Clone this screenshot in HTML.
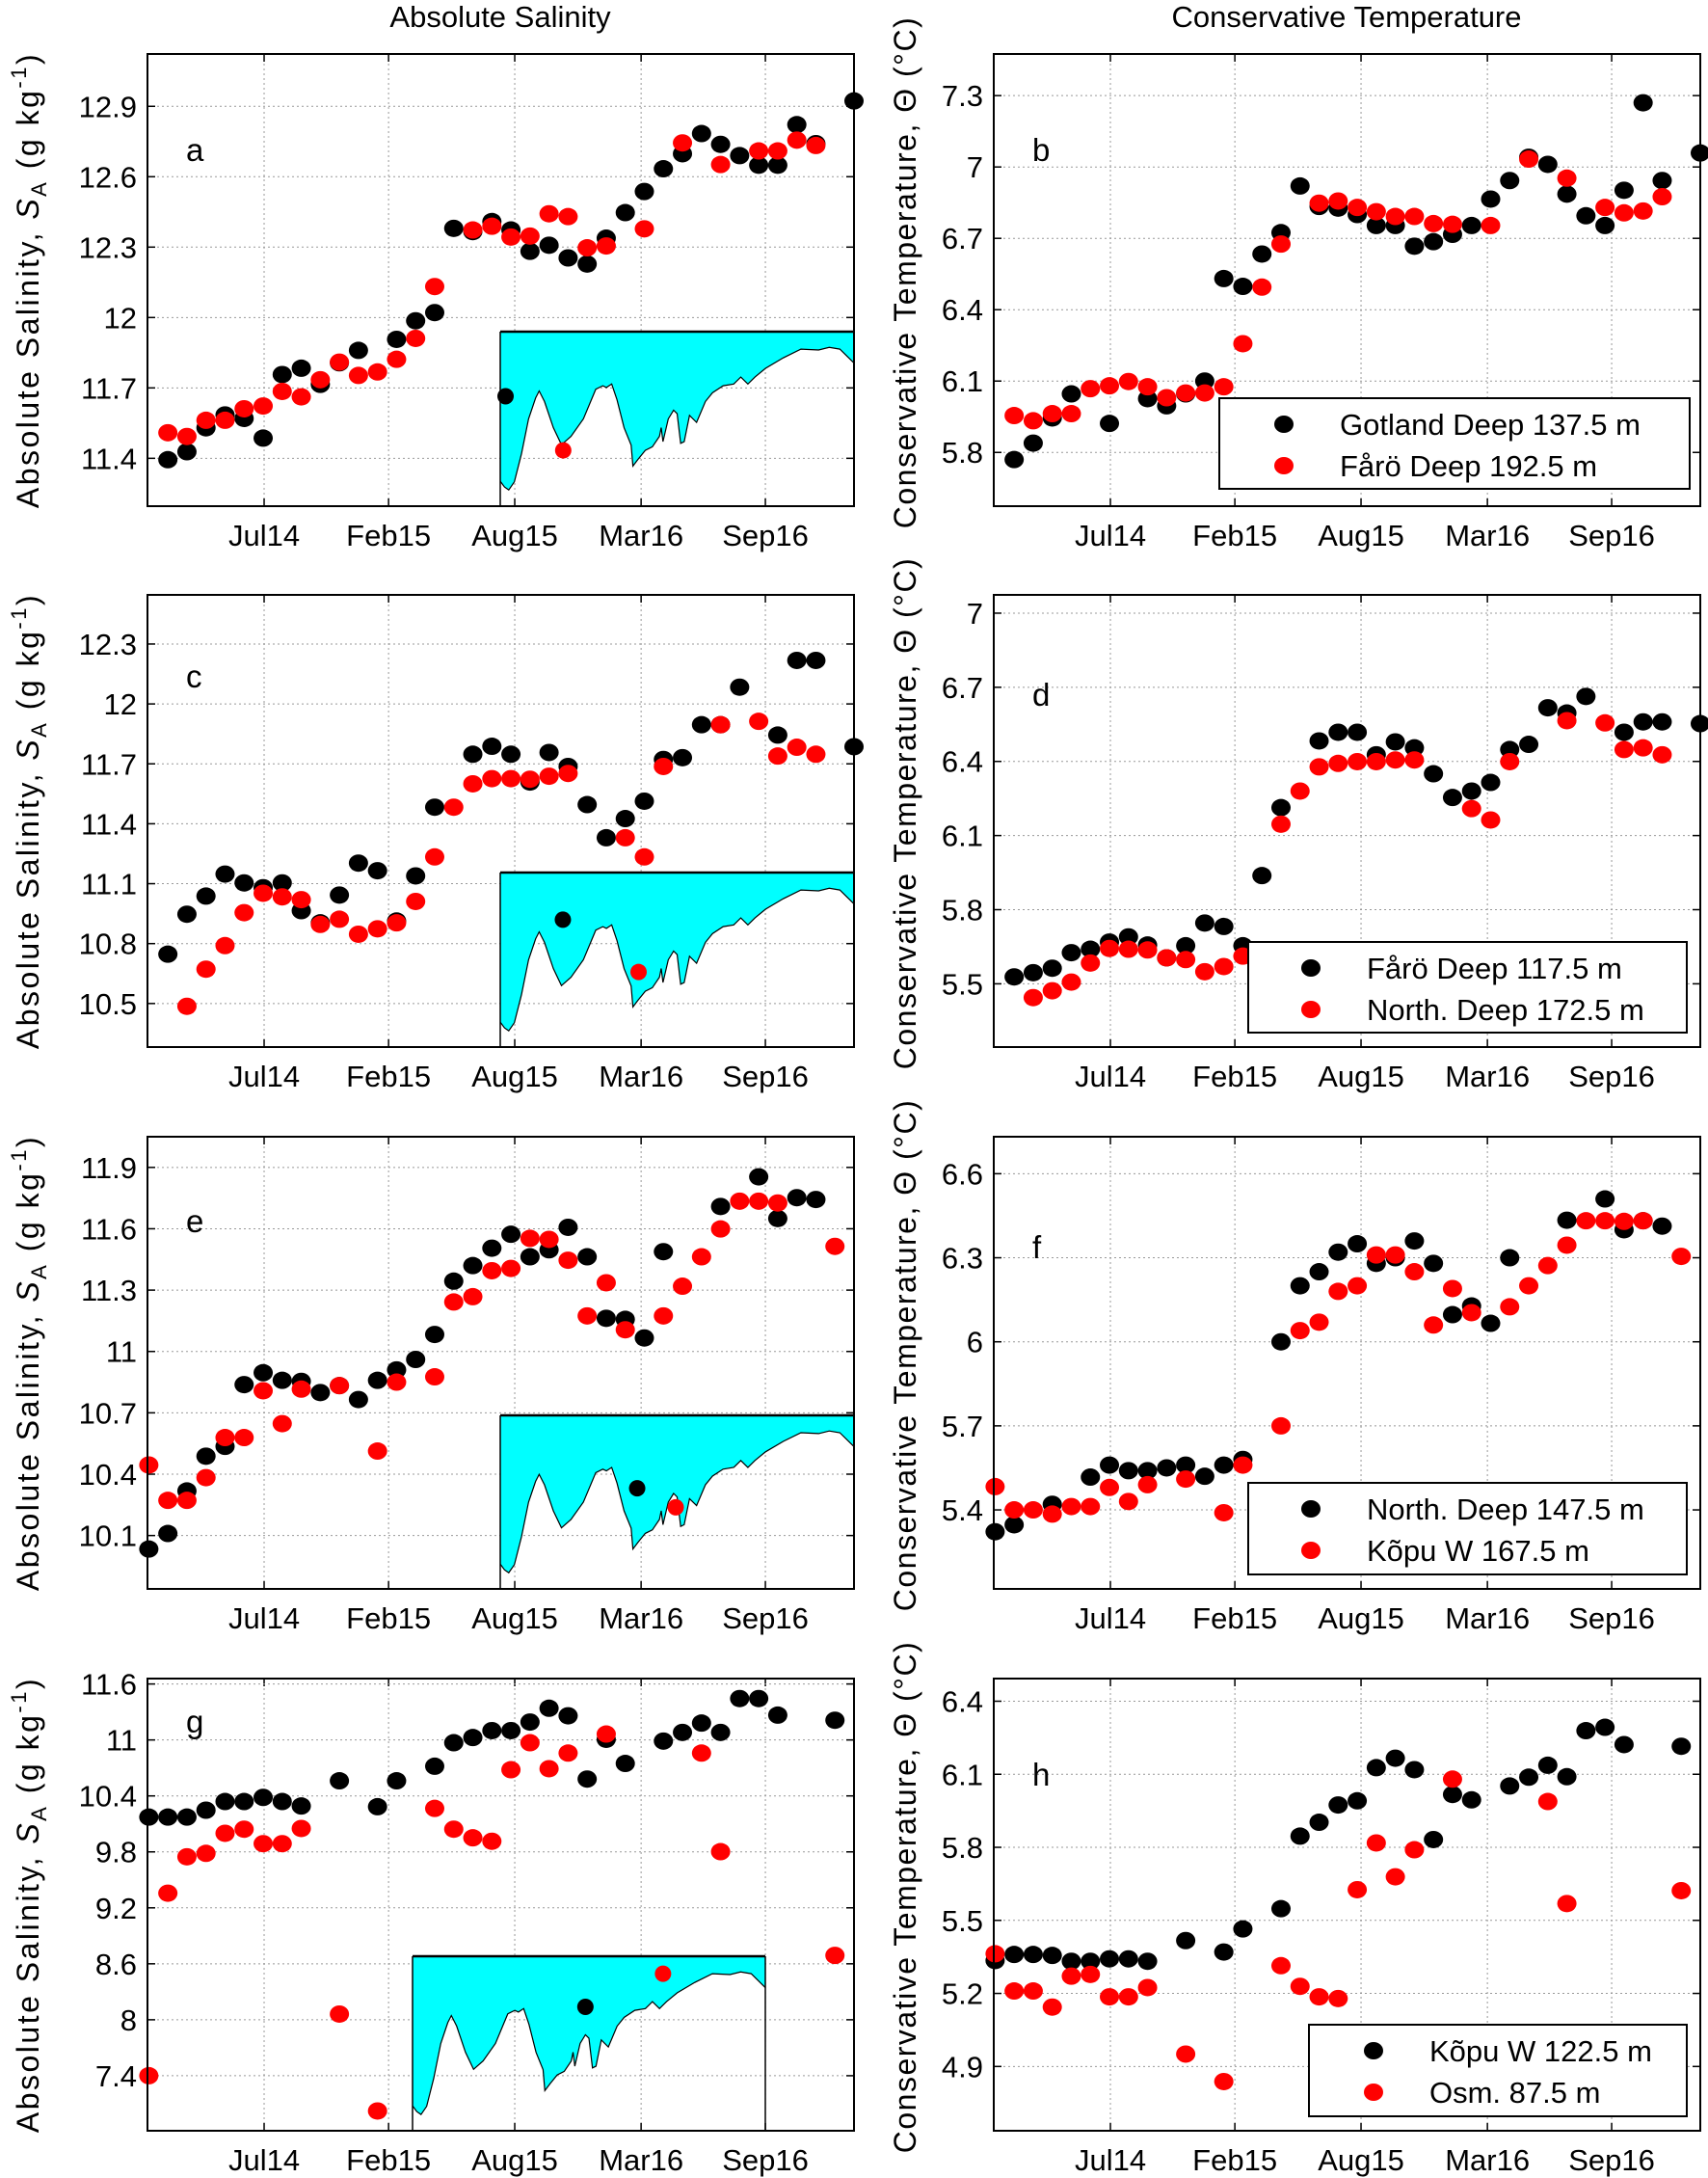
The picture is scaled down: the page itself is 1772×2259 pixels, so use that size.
<!DOCTYPE html>
<html><head><meta charset="utf-8">
<style>
html,body{margin:0;padding:0;background:#fff;}
svg{display:block;font-family:"Liberation Sans",Arial,sans-serif;}
</style></head>
<body>
<svg id="fig" width="1772" height="2259" viewBox="0 0 1772 2259" xmlns="http://www.w3.org/2000/svg">
<text x="519" y="28" font-size="31" text-anchor="middle">Absolute Salinity</text>
<text x="1397" y="28" font-size="31" text-anchor="middle">Conservative Temperature</text>
</svg>
<script>
const tickMonths = [0.05, 6.58, 13.2, 19.83, 26.35];
const tickLabels = ["Jul14", "Feb15", "Aug15", "Mar16", "Sep16"];

const aBlack = [null,11.394,11.428,11.53,11.585,11.57,11.486,11.757,11.784,11.715,11.807,11.86,null,11.907,11.986,12.021,12.38,12.366,12.409,12.373,12.282,12.308,12.254,12.228,12.338,12.447,12.537,12.634,12.698,12.784,12.738,12.69,12.649,12.649,12.822,12.741,null,12.923];
const aRed = [null,11.509,11.493,11.562,11.562,11.611,11.623,11.685,11.662,11.735,11.81,11.753,11.768,11.822,11.911,12.132,null,12.373,12.389,12.343,12.347,12.442,12.43,12.297,12.305,null,12.378,null,12.744,null,12.652,null,12.71,12.71,12.756,12.733];
const bBlack = [null,5.77,5.839,5.945,6.046,null,5.922,null,6.026,5.996,6.046,6.1,6.531,6.498,6.634,6.724,6.92,6.834,6.827,6.8,6.754,6.754,6.667,6.686,6.717,6.754,6.865,6.943,7.041,7.011,6.886,6.795,6.754,6.902,7.27,6.943,null,7.059];
const bRed = [null,5.955,5.933,5.963,5.963,6.068,6.08,6.098,6.076,6.03,6.05,6.05,6.076,6.257,6.495,6.676,null,6.848,6.857,6.83,6.812,6.792,6.792,6.762,6.759,null,6.754,null,7.033,null,6.953,null,6.83,6.807,6.815,6.875];
const cBlack = [null,10.747,10.947,11.038,11.148,11.104,11.08,11.104,10.965,10.904,11.043,11.203,11.165,10.913,11.139,11.483,null,11.748,11.788,11.748,11.609,11.757,11.687,11.496,11.33,11.426,11.513,11.722,11.731,11.896,11.896,12.084,null,11.844,12.218,12.218,null,11.786];
const cRed = [null,null,10.486,10.672,10.79,10.955,11.052,11.034,11.02,10.896,10.922,10.847,10.874,10.904,11.011,11.234,11.483,11.6,11.626,11.626,11.623,11.638,11.652,null,null,11.33,11.234,11.687,null,null,11.896,null,11.913,11.739,11.783,11.748];
const dBlack = [null,5.528,5.545,5.563,5.626,5.64,5.669,5.69,5.657,5.605,5.654,5.746,5.732,5.654,5.938,6.213,null,6.483,6.518,6.518,6.427,6.479,6.455,6.35,6.254,6.28,6.315,6.448,6.469,6.617,6.596,6.663,null,6.518,6.56,6.56,null,6.553];
const dRed = [null,null,5.444,5.472,5.507,5.584,5.643,5.64,5.637,5.605,5.598,5.549,5.57,5.612,null,6.146,6.28,6.378,6.392,6.399,6.399,6.406,6.406,null,null,6.209,6.163,6.399,null,null,6.565,null,6.556,6.448,6.455,6.427];
const eBlack = [10.034,10.11,10.318,10.488,10.536,10.838,10.896,10.859,10.854,10.799,10.833,10.765,10.859,10.91,10.961,11.083,11.344,11.42,11.505,11.573,11.463,11.497,11.607,11.463,11.162,11.157,11.066,11.488,null,null,11.709,null,11.854,11.65,11.752,11.743];
const eRed = [10.445,10.272,10.272,10.383,10.579,10.579,10.808,10.647,10.816,null,10.833,null,10.513,10.85,null,10.876,11.242,11.268,11.395,11.406,11.553,11.548,11.446,11.174,11.336,11.106,null,11.174,11.319,11.463,11.599,11.735,11.735,11.726,null,null,11.514];
const fBlack = [5.322,5.347,null,5.42,null,5.517,5.56,5.54,5.54,5.55,5.56,5.52,5.56,5.58,null,6.0,6.2,6.25,6.32,6.35,6.28,6.30,6.36,6.28,6.097,6.128,6.066,6.30,null,null,6.434,null,6.51,6.40,6.432,6.413];
const fRed = [5.483,5.40,5.40,5.385,5.412,5.412,5.48,5.43,5.49,null,5.51,null,5.39,5.56,null,5.70,6.04,6.07,6.18,6.20,6.31,6.31,6.25,6.06,6.19,6.104,null,6.125,6.20,6.272,6.345,6.432,6.432,6.43,6.432,null,6.305];
const gBlack = [10.173,10.173,10.173,10.247,10.34,10.34,10.384,10.34,10.292,null,10.562,null,10.284,10.562,null,10.718,10.97,11.026,11.1,11.1,11.192,11.34,11.259,10.581,11.007,10.748,null,10.988,11.081,11.181,11.081,11.444,11.444,11.266,null,null,11.211];
const gRed = [7.4,9.357,9.747,9.784,9.999,10.043,9.888,9.888,10.051,null,8.061,null,7.022,null,null,10.266,10.043,9.951,9.914,10.681,10.97,10.692,10.859,null,11.063,null,null,null,null,10.859,9.802,null,null,null,null,null,8.69];
const hBlack = [5.335,5.36,5.36,5.356,5.332,5.332,5.342,5.342,5.332,null,5.417,null,5.37,5.465,null,5.548,5.846,5.903,5.974,5.991,6.127,6.166,6.119,5.832,6.017,5.995,null,6.052,6.088,6.137,6.09,6.279,6.293,6.222,null,null,6.215];
const hRed = [5.363,5.21,5.21,5.144,5.271,5.278,5.186,5.186,5.224,null,4.951,null,4.838,null,null,5.314,5.229,5.186,5.179,5.626,5.818,5.679,5.79,null,6.08,null,null,null,null,5.988,5.569,null,null,null,null,null,5.622];

const salTicksA = [11.4,11.7,12.0,12.3,12.6,12.9];
const salTicksC = [10.5,10.8,11.1,11.4,11.7,12.0,12.3];
const salTicksE = [10.1,10.4,10.7,11.0,11.3,11.6,11.9];
const salTicksG = [7.4,8.0,8.6,9.2,9.8,10.4,11.0,11.6];
const tmpTicksB = [5.8,6.1,6.4,6.7,7.0,7.3];
const tmpTicksD = [5.5,5.8,6.1,6.4,6.7,7.0];
const tmpTicksF = [5.4,5.7,6.0,6.3,6.6];
const tmpTicksH = [4.9,5.2,5.5,5.8,6.1,6.4];

const legendB = ["Gotland Deep 137.5 m","Fårö Deep 192.5 m"];
const legendD = ["Fårö Deep 117.5 m","North. Deep 172.5 m"];
const legendF = ["North. Deep 147.5 m","Kõpu W 167.5 m"];
const legendH = ["Kõpu W 122.5 m","Osm. 87.5 m"];

const profX = [0,0.012,0.024,0.04,0.06,0.08,0.1,0.11,0.125,0.15,0.173,0.2,0.235,0.27,0.29,0.3,0.315,0.33,0.35,0.37,0.375,0.39,0.41,0.43,0.45,0.455,0.46,0.475,0.49,0.5,0.51,0.52,0.535,0.555,0.58,0.6,0.63,0.66,0.68,0.7,0.72,0.75,0.8,0.85,0.9,0.93,0.96,1];
const profY = [0.857,0.89,0.907,0.86,0.7,0.5,0.38,0.34,0.4,0.55,0.648,0.6,0.5,0.33,0.31,0.32,0.3,0.39,0.55,0.65,0.77,0.73,0.68,0.66,0.6,0.55,0.63,0.5,0.45,0.47,0.64,0.63,0.48,0.52,0.4,0.35,0.31,0.3,0.26,0.3,0.26,0.21,0.15,0.1,0.105,0.09,0.1,0.18];

const NS = "http://www.w3.org/2000/svg";
const svg = document.getElementById("fig");
const M0 = -6.07, M1 = 31.0;
function mk(tag, attrs, parent){ const e=document.createElementNS(NS,tag); for(const k in attrs) e.setAttribute(k,attrs[k]); (parent||svg).appendChild(e); return e; }

const LX = 153, RX = 1031, W = 733, H = 469;
const panels = [
 {id:"a",L:LX,T:56,y0:11.196,y1:13.123,ticks:salTicksA,blk:aBlack,red:aRed,sal:true,letterDy:111,inset:{x:519,w:367,t:344},idots:[[0.015,0.37,"#000"],[0.178,0.68,"#f00"]]},
 {id:"b",L:RX,T:56,y0:5.574,y1:7.475,ticks:tmpTicksB,blk:bBlack,red:bRed,sal:false,letterDy:111,legend:{names:legendB,x:1265,y:413,w:488,h:94,mx:67,tx:125}},
 {id:"c",L:LX,T:617,y0:10.282,y1:12.546,ticks:salTicksC,blk:cBlack,red:cRed,sal:true,letterDy:96,inset:{x:519,w:367,t:905},idots:[[0.177,0.27,"#000"],[0.391,0.57,"#f00"]]},
 {id:"d",L:RX,T:617,y0:5.244,y1:7.074,ticks:tmpTicksD,blk:dBlack,red:dRed,sal:false,letterDy:115,legend:{names:legendD,x:1295,y:977,w:455,h:94,mx:65,tx:123}},
 {id:"e",L:LX,T:1179,y0:9.839,y1:12.05,ticks:salTicksE,blk:eBlack,red:eRed,sal:true,letterDy:99,inset:{x:519,w:367,t:1468},idots:[[0.387,0.42,"#000"],[0.496,0.53,"#f00"]]},
 {id:"f",L:RX,T:1179,y0:5.118,y1:6.732,ticks:tmpTicksF,blk:fBlack,red:fRed,sal:false,letterDy:126,legend:{names:legendF,x:1295,y:1538,w:455,h:95,mx:65,tx:123}},
 {id:"g",L:LX,T:1741,y0:6.81,y1:11.658,ticks:salTicksG,blk:gBlack,red:gRed,sal:true,letterDy:56,inset:{x:428,w:366,t:2029,box:true},idots:[[0.49,0.29,"#000"],[0.71,0.10,"#f00"]]},
 {id:"h",L:RX,T:1741,y0:4.636,y1:6.493,ticks:tmpTicksH,blk:hBlack,red:hRed,sal:false,letterDy:111,legend:{names:legendH,x:1358,y:2100,w:392,h:95,mx:67,tx:125}}
];

function fmt(v){ return (Math.round(v*10)/10).toString(); }

panels.forEach(p=>{
  const B = p.T + H;
  const g = mk("g",{});
  
  
  const xs = m => p.L + (m - M0)/(M1 - M0)*W;
  const ys = v => B - (v - p.y0)/(p.y1 - p.y0)*H;
  tickMonths.forEach((m,k)=>{
    const x = xs(m);
    const gl = mk("line",{x1:x,x2:x,y1:p.T,y2:B,stroke:"#999","stroke-width":1,"stroke-dasharray":"2,3"},g);
    
    
    mk("line",{x1:x,x2:x,y1:B,y2:B-8,stroke:"#000","stroke-width":1.5},g);
    mk("line",{x1:x,x2:x,y1:p.T,y2:p.T+8,stroke:"#000","stroke-width":1.5},g);
    const t = mk("text",{x:x,y:B+41,"font-size":31,"text-anchor":"middle"},g);
    t.textContent = tickLabels[k];
    
    
  });
  p.ticks.forEach(v=>{
    const y = ys(v);
    const gl = mk("line",{x1:p.L,x2:p.L+W,y1:y,y2:y,stroke:"#999","stroke-width":1,"stroke-dasharray":"2,3"},g);
    
    
    mk("line",{x1:p.L,x2:p.L+8,y1:y,y2:y,stroke:"#000","stroke-width":1.5},g);
    mk("line",{x1:p.L+W,x2:p.L+W-8,y1:y,y2:y,stroke:"#000","stroke-width":1.5},g);
    const t = mk("text",{x:p.L-11,y:y+11,"font-size":31,"text-anchor":"end"},g);
    t.textContent = fmt(v);
    
    
  });
  if(p.inset){
    const I = p.inset, ih = B - I.t;
    const ig = mk("g",{},g);
    
    
    let pts = [[I.x, I.t],[I.x+I.w, I.t]];
    for(let k=profX.length-1;k>=0;k--) pts.push([I.x+profX[k]*I.w, I.t+profY[k]*ih]);
    mk("polygon",{points:pts.map(q=>q.join(",")).join(" "),fill:"#00ffff",stroke:"none"},ig);
    let line = profX.map((px,k)=>(I.x+px*I.w)+","+(I.t+profY[k]*ih)).join(" ");
    mk("polyline",{points:line,fill:"none",stroke:"#000","stroke-width":1.2},ig);
    mk("line",{x1:I.x,x2:I.x,y1:I.t,y2:B,stroke:"#000","stroke-width":1.5},ig);
    mk("line",{x1:I.x,x2:I.x+I.w,y1:I.t,y2:I.t,stroke:"#000","stroke-width":2.5},ig);
    if(I.box) mk("line",{x1:I.x+I.w,x2:I.x+I.w,y1:I.t,y2:B,stroke:"#000","stroke-width":1.5},ig);
    p.idots.forEach(d=>{
      const c = mk("ellipse",{cx:I.x+d[0]*I.w,cy:I.t+d[1]*ih,rx:8.5,ry:8.5,fill:d[2]},ig);
      
      
    });
  }
  [[p.blk,"#000","black-series"],[p.red,"#f00","red-series"]].forEach(s=>{
    const sg = mk("g",{},g);
    
    
    s[0].forEach((v,k)=>{
      if(v===null) return;
      const m = k - 6;
      const c = mk("ellipse",{cx:xs(m),cy:ys(v),rx:10,ry:9,fill:s[1]},sg);
      
      
    });
  });
  const fr = mk("rect",{x:p.L,y:p.T,width:W,height:H,fill:"none",stroke:"#000","stroke-width":2},g);
  
  
  const lt = mk("text",{x:p.L+40,y:p.T+p.letterDy,"font-size":33},g);
  lt.textContent = p.id;
  
  
  const cy = p.T + H/2 + (p.sal ? 0 : -8);
  const tx = p.sal ? 40 : 950;
  const yt = mk("text",{x:tx,y:cy,"font-size":32,"letter-spacing":p.sal?2.5:1.5,"text-anchor":"middle",transform:`rotate(-90 ${tx} ${cy})`},g);
  
  
  if(p.sal){
    yt.innerHTML = 'Absolute Salinity, <tspan font-style="italic">S</tspan><tspan font-size="22" dy="8">A</tspan><tspan dy="-8"> (g kg</tspan><tspan font-size="22" dy="-13">-1</tspan><tspan dy="13">)</tspan>';
  } else {
    yt.textContent = 'Conservative Temperature,  \u0398 (\u00B0C)';
  }
  if(p.legend){
    const Lg = p.legend;
    const lg = mk("g",{},g);
    
    
    mk("rect",{x:Lg.x,y:Lg.y,width:Lg.w,height:Lg.h,fill:"#fff",stroke:"#000","stroke-width":2},lg);
    Lg.names.forEach((n,k)=>{
      const yy = Lg.y + (k===0 ? 27 : 70);
      const mm = mk("ellipse",{cx:Lg.x+Lg.mx,cy:yy,rx:10,ry:9,fill:k===0?"#000":"#f00"},lg);
      
      
      const t = mk("text",{x:Lg.x+Lg.tx,y:yy+11,"font-size":31},lg);
      t.textContent = n;
      
      
    });
  }
});
</script>
</body></html>
